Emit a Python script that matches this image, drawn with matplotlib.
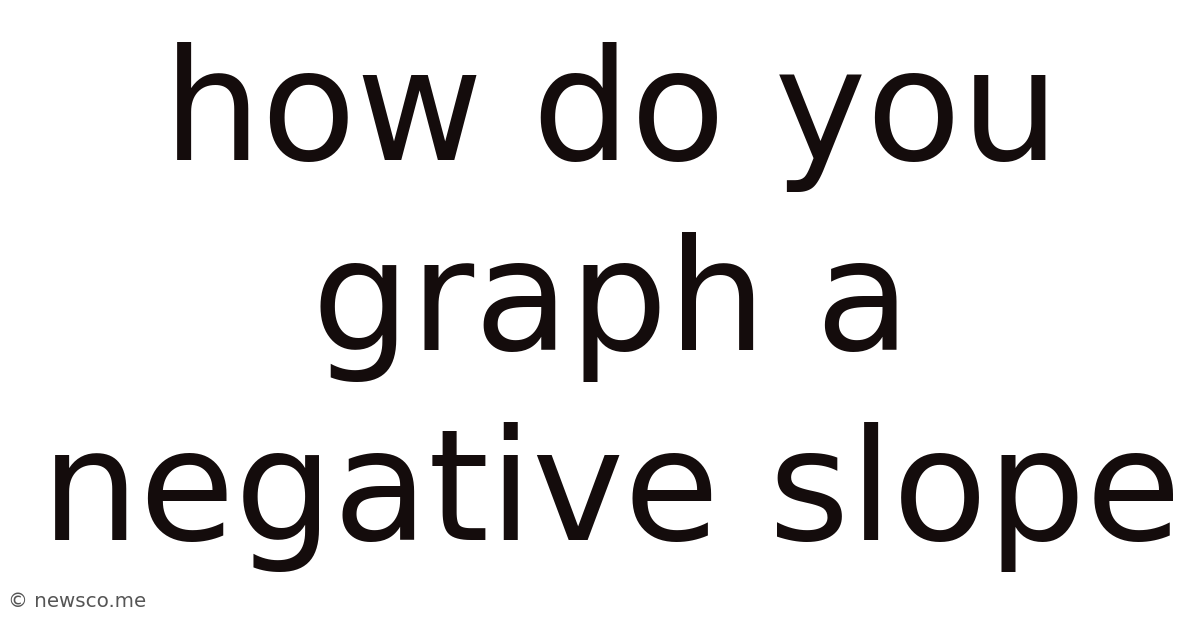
import matplotlib
matplotlib.use("Agg")
import matplotlib.pyplot as plt

# 表示するテキスト
title_lines = ["how do you", "graph a", "negative slope"]
baselines_px = [160, 350, 540]  # 各行のベースライン位置 (上からのピクセル)
watermark = "© newsco.me"

W, H = 1200, 628
fig = plt.figure(figsize=(W / 100, H / 100), dpi=100)
fig.patch.set_facecolor("white")

for line, y in zip(title_lines, baselines_px):
    fig.text(611 / W, 1 - y / H, line, ha="center", va="baseline",
             fontsize=111.7, color="#140c0c", family="DejaVu Sans")

fig.text(8 / W, 1 - 607 / H, watermark, ha="left", va="baseline",
         fontsize=14.3, color="#555555", family="DejaVu Sans")

fig.savefig("out.png", dpi=100, facecolor="white")
